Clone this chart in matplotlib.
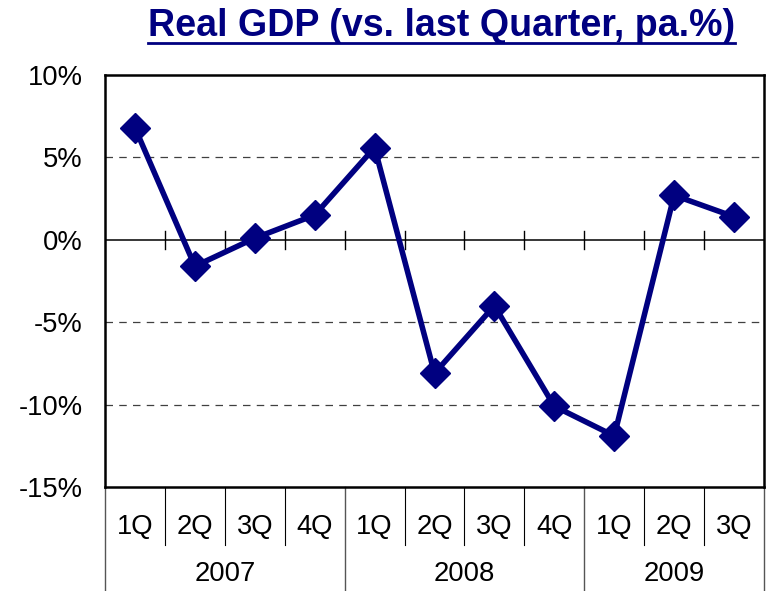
import matplotlib
matplotlib.use("Agg")
import matplotlib.pyplot as plt

# datos
trimestres = ["1Q", "2Q", "3Q", "4Q", "1Q", "2Q", "3Q", "4Q", "1Q", "2Q", "3Q"]
anios = ["2007", "2008", "2009"]
trimestres_por_anio = [4, 4, 3]
pib_real = [6.8, -1.6, 0.1, 1.5, 5.6, -8.1, -4.0, -10.1, -11.9, 2.7, 1.4]
ticks_y = [-15, -10, -5, 0, 5, 10]

plt.rcParams['font.family'] = ['Liberation Sans', 'DejaVu Sans']

fig = plt.figure(figsize=(7.68, 5.91), dpi=100)
ax = fig.add_axes([105 / 768, 1 - 487 / 591, 659 / 768, 412 / 591])

n = len(pib_real)
x = list(range(n))

# lineas de referencia
for v in [5, -5, -10]:
    ax.axhline(v, color='#404040', lw=0.9, ls=(0, (6, 5)), zorder=1)
ax.axhline(0, color='black', lw=1.1, zorder=2)
for i in range(1, n):
    ax.plot([i - 0.5, i - 0.5], [-0.53, 0.53], color='black', lw=1.0, zorder=2)

ax.plot(x, pib_real, color='#000080', lw=4, marker='D', markersize=15,
        markeredgecolor='#000080', zorder=3, solid_joinstyle='miter')

ax.set_xlim(-0.5, n - 0.5)
ax.set_ylim(-15, 10)
ax.set_yticks(ticks_y)
ax.set_yticklabels([f"{v}%" for v in ticks_y], fontsize=19.7)
ax.tick_params(axis='y', length=0, pad=16)
ax.set_xticks([])
for s in ax.spines.values():
    s.set_linewidth(1.8)

# eje de categorias en dos niveles
trans = ax.get_xaxis_transform()
for i, t in enumerate(trimestres):
    ax.text(i, -0.098, t, transform=trans, ha='center', va='center', fontsize=19.7)
inicio = 0
limites = [-0.5]
for anio, k in zip(anios, trimestres_por_anio):
    centro = inicio + (k - 1) / 2
    ax.text(centro, -0.211, anio, transform=trans, ha='center', va='center', fontsize=19.7)
    inicio += k
    limites.append(inicio - 0.5)
for i in range(1, n):
    xb = i - 0.5
    if xb in limites:
        continue
    ax.plot([xb, xb], [0, -0.14], transform=trans, color='black', lw=0.8, clip_on=False)
for xb in limites:
    ax.plot([xb, xb], [0, -0.26], transform=trans, color='#555555', lw=1.0, clip_on=False)

titulo = fig.text(441.5 / 768, 1 - 26 / 591, "Real GDP (vs. last Quarter, pa.%)",
                  ha='center', va='center', fontsize=27.1, fontweight='bold',
                  color='#000080')

# subrayado del titulo
fig.canvas.draw()
bb = titulo.get_window_extent().transformed(fig.transFigure.inverted())
fig.add_artist(plt.Line2D([bb.x0, bb.x1], [1 - 42.5 / 591] * 2, color='#000080', lw=2,
                          transform=fig.transFigure))

fig.savefig("out.png", dpi=100)
